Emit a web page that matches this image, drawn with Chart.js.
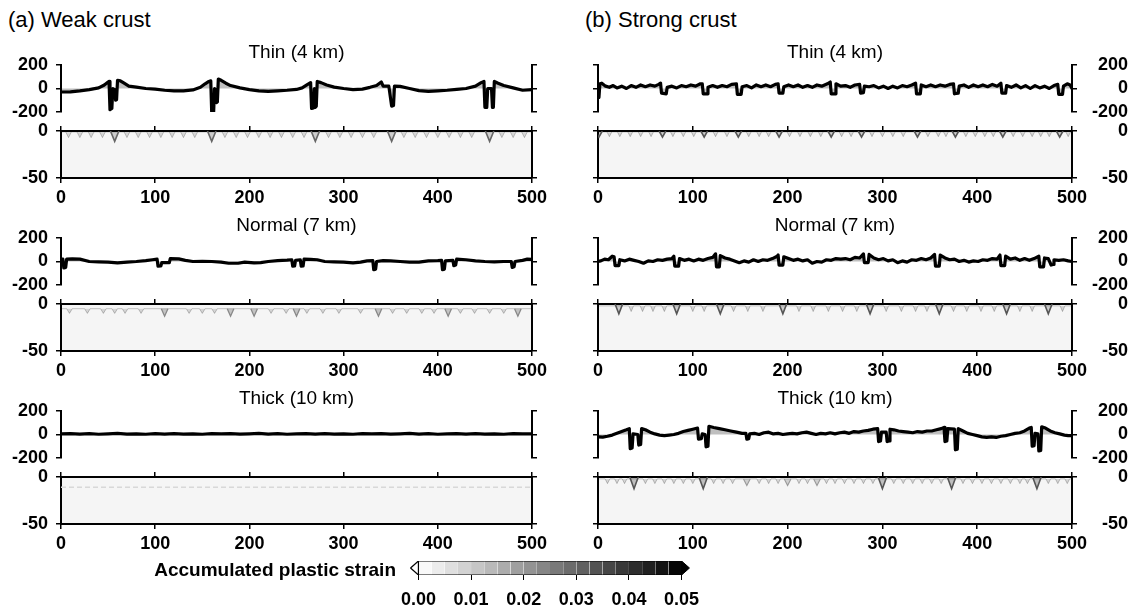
<!DOCTYPE html>
<html>
<head>
<meta charset="utf-8">
<script src="https://cdn.jsdelivr.net/npm/chart.js@4.4.0/dist/chart.umd.min.js"></script>
<style>
  body { margin: 0; background: #fff; }
  #fig { position: relative; width: 1128px; height: 609px; overflow: hidden;
         font-family: "Liberation Sans", Arial, Helvetica, sans-serif; color: #000; }
  #fig canvas { position: absolute; }
  .txt { position: absolute; white-space: nowrap; line-height: 1; }
</style>
</head>
<body>
<div id="fig"></div>
<script>
// ---- tick values ----
const xTicks = [0, 100, 200, 300, 400, 500];
const topoTicks = [-200, 0, 200];
const depthTicks = [-50, 0];
const strainTicks = [0, 0.01, 0.02, 0.03, 0.04, 0.05];
const strainLevels = [0, 0.0025, 0.005, 0.0075, 0.01, 0.0125, 0.015, 0.0175, 0.02, 0.0225, 0.025,
  0.0275, 0.03, 0.0325, 0.035, 0.0375, 0.04, 0.0425, 0.045, 0.0475, 0.05];

// ---- topography profiles [distance km, elevation m] ----
const topoWeakThin = [[0,-30],[10,-28],[20,-20],[30,-10],[40,5],[46,30],[50,55],[51,60],[52,-180],[54,-170],[55,0],[57,-10],[58,-100],[59,-95],[60,70],[63,65],[67,45],[72,20],[80,12],[90,0],[100,-5],[110,-15],[120,-20],[130,-20],[140,-12],[148,10],[153,40],[157,60],[159,65],[160,-210],[162,-210],[163,0],[164,-10],[165,-120],[166,-115],[167,80],[170,70],[175,45],[180,25],[190,5],[200,-10],[210,-20],[220,-25],[230,-20],[240,-15],[250,-8],[256,5],[261,30],[265,50],[266,-170],[268,-165],[269,0],[270,-160],[271,-150],[272,60],[276,50],[282,30],[290,12],[300,0],[310,-10],[320,-5],[328,10],[335,25],[340,55],[342,20],[348,20],[351,-150],[353,-145],[354,20],[360,18],[370,0],[380,-18],[390,-25],[400,-20],[410,-15],[420,-8],[430,0],[440,20],[446,50],[449,60],[450,-160],[452,-160],[453,0],[457,0],[458,-160],[459,-160],[460,60],[464,45],[470,25],[480,5],[490,-15],[500,-10]];
const topoWeakNormal = [[0,20],[2,20],[3,-55],[5,-50],[6,20],[12,22],[20,20],[30,0],[40,-3],[50,-5],[60,-12],[70,-5],[80,0],[90,8],[97,15],[102,20],[103,-40],[106,-38],[107,-10],[115,-10],[116,25],[125,22],[132,10],[140,0],[150,2],[160,0],[170,-5],[178,-15],[188,-15],[195,-5],[205,-12],[212,-10],[220,0],[230,8],[240,12],[245,15],[246,-40],[248,-38],[249,10],[254,15],[255,-40],[257,-38],[258,20],[265,18],[272,15],[280,0],[290,-3],[300,-5],[310,-12],[318,-5],[325,5],[331,8],[332,-70],[334,-65],[335,0],[342,8],[350,5],[360,0],[370,-5],[380,-5],[390,5],[400,8],[404,10],[405,-70],[407,-65],[408,5],[416,10],[417,-35],[419,-30],[420,20],[430,15],[440,5],[450,0],[460,-3],[470,0],[478,0],[479,-50],[481,-45],[482,0],[490,10],[495,20],[500,18]];
const topoWeakThick = [[0,5],[10,8],[20,3],[30,7],[40,2],[50,6],[60,9],[70,3],[80,6],[90,2],[100,7],[110,4],[120,8],[130,3],[140,6],[150,2],[160,7],[170,5],[180,8],[190,3],[200,6],[210,9],[220,4],[230,7],[240,2],[250,6],[260,8],[270,3],[280,7],[290,4],[300,6],[310,2],[320,8],[330,5],[340,7],[350,3],[360,6],[370,9],[380,4],[390,7],[400,2],[410,6],[420,8],[430,3],[440,7],[450,4],[460,6],[470,2],[480,8],[490,5],[500,5]];
const topoStrongThin = [[0,-70],[1,-75],[2,40],[4,45],[8,20],[12,10],[16,25],[20,5],[25,20],[30,0],[35,25],[40,10],[45,30],[50,15],[55,30],[60,20],[64,35],[66,45],[67,-40],[72,-45],[73,10],[78,20],[83,5],[88,25],[93,15],[98,30],[103,20],[108,40],[110,40],[111,-45],[115,-45],[116,10],[121,25],[126,10],[131,25],[136,15],[141,35],[146,40],[147,-50],[151,-50],[152,15],[157,25],[162,5],[167,30],[172,15],[177,30],[182,15],[187,35],[190,40],[191,-40],[195,-40],[196,15],[201,30],[206,15],[211,30],[216,10],[221,25],[226,10],[231,30],[236,20],[242,40],[245,55],[246,-45],[250,-45],[251,40],[256,20],[261,25],[266,10],[271,30],[276,35],[277,-40],[280,-35],[281,20],[286,15],[291,25],[296,5],[301,20],[306,0],[311,20],[316,5],[321,25],[326,15],[331,30],[335,45],[336,-45],[340,-45],[341,30],[346,15],[351,30],[356,15],[361,30],[366,20],[371,35],[375,40],[376,-45],[380,-40],[381,20],[386,30],[391,10],[396,30],[401,15],[406,30],[411,15],[416,35],[421,20],[425,45],[426,-40],[430,-40],[431,25],[436,10],[441,30],[446,5],[451,25],[456,0],[461,25],[466,5],[471,20],[476,0],[481,25],[485,35],[486,-50],[490,-50],[491,20],[495,40],[498,30],[500,0]];
const topoStrongNormal = [[0,0],[3,5],[7,20],[11,15],[15,45],[17,40],[18,-35],[22,-35],[23,15],[28,5],[33,20],[38,10],[43,0],[48,-15],[53,5],[58,0],[63,15],[68,10],[73,20],[78,25],[80,45],[81,-40],[85,-40],[86,25],[91,10],[96,20],[101,5],[106,20],[111,10],[116,25],[121,35],[124,65],[125,-45],[128,-45],[129,50],[134,30],[139,20],[144,5],[149,-10],[154,5],[159,-5],[164,15],[169,0],[174,15],[179,10],[184,25],[189,45],[190,55],[191,-30],[195,-30],[196,40],[201,25],[206,10],[211,20],[216,5],[221,15],[226,-15],[231,0],[236,-5],[241,15],[246,10],[251,25],[256,20],[261,25],[266,15],[271,35],[276,30],[280,65],[281,-10],[285,-10],[286,60],[291,30],[296,15],[301,25],[306,5],[311,15],[316,-10],[321,5],[326,-5],[331,15],[336,10],[341,25],[346,15],[351,30],[355,60],[356,-40],[360,-40],[361,55],[366,30],[371,15],[376,20],[381,0],[386,10],[391,-5],[396,5],[401,0],[406,15],[411,10],[416,25],[421,20],[424,55],[425,-35],[429,-35],[430,45],[435,20],[440,30],[445,10],[450,25],[455,10],[460,25],[465,45],[466,-45],[470,-45],[471,30],[475,25],[478,-30],[480,-25],[481,15],[486,10],[491,15],[496,5],[500,0]];
const topoStrongThick = [[0,-20],[5,-22],[10,-15],[15,-5],[20,10],[25,25],[30,40],[33,50],[34,-120],[36,-115],[37,5],[42,0],[43,-90],[45,-85],[46,50],[50,40],[55,20],[60,5],[65,-5],[70,-10],[75,-5],[80,0],[85,10],[90,25],[95,35],[100,45],[105,55],[106,-40],[109,-35],[110,5],[113,0],[114,-105],[116,-100],[117,70],[122,60],[128,50],[134,40],[140,30],[146,20],[152,10],[156,10],[157,-40],[159,-35],[160,5],[165,10],[170,0],[175,15],[180,20],[185,5],[190,10],[195,0],[200,5],[205,10],[210,5],[215,15],[220,20],[225,10],[230,0],[235,10],[240,5],[245,15],[250,5],[255,15],[260,20],[265,10],[270,25],[275,20],[280,30],[285,35],[290,45],[295,50],[296,-60],[298,-55],[299,20],[304,20],[305,-60],[307,-55],[308,45],[312,40],[317,30],[322,25],[327,20],[332,15],[337,25],[342,20],[347,30],[352,30],[357,40],[362,50],[365,60],[366,-60],[368,-55],[369,50],[376,45],[377,-130],[379,-125],[380,50],[385,30],[390,10],[395,0],[400,-10],[405,-20],[410,-25],[415,-20],[420,-25],[425,-15],[430,-10],[435,0],[440,10],[445,15],[450,30],[455,55],[457,60],[458,-100],[460,-95],[461,10],[464,5],[465,-140],[467,-135],[468,65],[472,55],[477,30],[482,15],[487,5],[492,-5],[496,-10],[500,-10]];

// ---- strain: fault (shear band) positions in km ----
const weakThinMajor = [57, 160, 270, 351, 455];
const weakThinMinor = [8,20,32,44,70,82,94,106,118,130,142,174,186,198,210,222,234,246,258,284,296,308,320,332,364,376,388,400,412,424,436,468,480,492];
const weakNormalMajor = [110, 180, 205, 250, 337, 411, 485];
const weakNormalMinor = [9,28,45,57,68,85,136,150,163,223,239,261,278,295,318,352,367,383,396,424,439,455,470];
const weakThickBand = -11;
const strongThinMajor = [1, 68, 112, 148, 191, 246, 278, 337, 377, 427, 487];
const strongThinMinor = [12,23,34,45,56,79,90,101,124,136,159,170,180,202,213,224,235,257,267,289,300,311,322,348,359,367,388,398,408,417,438,448,458,467,476,496];
const strongNormalMajor = [22, 83, 129, 195, 287, 360, 431, 475];
const strongNormalMinor = [35,47,58,70,100,112,143,158,174,212,227,243,258,273,304,320,335,347,375,389,404,418,445,458,490];
const strongThickMajor = [38, 111, 300, 373, 463];
const strongThickMedium = [157, 200, 231];
const strongThickMinor = [10,20,28,50,60,70,80,90,100,122,132,142,170,180,190,212,221,241,250,260,270,280,290,312,322,332,342,352,362,385,395,405,415,425,435,445,453,475,485,495];

// band depths [top, bottom, half width] in km
const majorBand = { weakThin: [0, -11, 4.5], weakNormal: [-5, -13, 3.5], strongThin: [0, -6.5, 3.5], strongNormal: [0, -10.5, 4], strongThick: [0, -12.5, 4.5] };
const minorBand = { weakThin: [-1, -7, 3], weakNormal: [-5, -10, 3], strongThin: [-1, -6, 2.5], strongNormal: [-2, -8, 2.5], strongThick: [-2, -7, 2.5] };
const mediumBand = [-2, -9, 3.5];

Chart.defaults.font.family = '"Liberation Sans", Arial, Helvetica, sans-serif';
Chart.defaults.color = '#000';

const fig = document.getElementById('fig');
const LEFT = { x0: 61, x1: 532, cx0: 0, cx1: 560, labels: 'left' };
const RIGHT = { x0: 598, x1: 1072, cx0: 560, cx1: 1128, labels: 'right' };
const topoTops = [65, 238, 411];
const heatTops = [131, 304, 477];
const BOX_H = 47;
const M = 22; // canvas margin above / below a plot box

function addCanvas(x, y, w, h) {
  const c = document.createElement('canvas');
  c.width = w; c.height = h;
  c.style.left = x + 'px'; c.style.top = y + 'px';
  c.style.width = w + 'px'; c.style.height = h + 'px';
  fig.appendChild(c);
  return c;
}

function addText(text, x, cy, size, weight, align) {
  const d = document.createElement('div');
  d.className = 'txt';
  d.textContent = text;
  d.style.fontSize = size + 'px';
  d.style.fontWeight = weight;
  d.style.left = x + 'px';
  d.style.top = (cy - size * 0.5) + 'px';
  if (align === 'center') d.style.transform = 'translateX(-50%)';
  if (align === 'right') d.style.transform = 'translateX(-100%)';
  fig.appendChild(d);
}

const tickFont = { size: 18, weight: 'bold' };
const tickGrid = { drawOnChartArea: false, drawTicks: true, tickLength: 5, color: '#000', lineWidth: 1.5 };
const frame = { display: true, color: '#000', width: 2 };

function yScale(pos, min, max, vals, show, width) {
  return {
    type: 'linear', position: pos, min, max,
    afterBuildTicks: s => { s.ticks = vals.map(v => ({ value: v })); },
    ticks: { display: show, font: tickFont, padding: 8, autoSkip: false,
             crossAlign: pos === 'right' ? 'far' : 'near' },
    grid: tickGrid, border: frame,
    afterFit: s => { s.width = width; }
  };
}

function xScale(pos, show, height) {
  return {
    type: 'linear', position: pos, min: 0, max: 500,
    afterBuildTicks: s => { s.ticks = xTicks.map(v => ({ value: v })); },
    ticks: { display: show, font: tickFont, padding: 4, autoSkip: false, maxRotation: 0 },
    grid: tickGrid, border: frame,
    afterFit: s => { s.height = height; }
  };
}

function baseOptions(padding, scales) {
  return {
    responsive: false, animation: false, events: [],
    layout: { padding },
    plugins: { legend: { display: false }, tooltip: { enabled: false } },
    scales
  };
}

const heatBg = {
  id: 'heatBg',
  beforeDraw(chart) {
    const a = chart.chartArea, c = chart.ctx;
    c.save(); c.fillStyle = '#f5f5f5';
    c.fillRect(a.left, a.top, a.right - a.left, a.bottom - a.top);
    c.restore();
  }
};

function topoChart(col, row, pts) {
  const top = topoTops[row];
  const cv = addCanvas(col.cx0, top - M, col.cx1 - col.cx0, BOX_H + 2 * M);
  new Chart(cv, {
    type: 'line',
    data: { datasets: [{
      data: pts.map(([x, y]) => ({ x, y })), xAxisID: 'x', yAxisID: 'y',
      borderColor: '#000', borderWidth: 3.2, borderJoinStyle: 'round', borderCapStyle: 'round', pointRadius: 0,
      fill: 'origin', backgroundColor: 'rgba(0,0,0,0.25)'
    }] },
    options: baseOptions({ top: M, bottom: M, left: 0, right: 0 }, {
      x: { type: 'linear', min: 0, max: 500, display: false },
      y: yScale('left', -200, 200, topoTicks, col.labels === 'left', col.x0 - col.cx0),
      y2: yScale('right', -200, 200, topoTicks, col.labels === 'right', col.cx1 - col.x1)
    })
  });
}

// V-shaped shear bands hanging from a depth level
function bandDatasets(faults, band, fillCol, lineCol, lw) {
  const [t, b, hw] = band;
  return faults.map(f => ({
    data: [{ x: f - hw, y: t }, { x: f, y: b }, { x: f + hw, y: t }],
    xAxisID: 'x', yAxisID: 'y', pointRadius: 0, borderWidth: lw,
    borderColor: lineCol, backgroundColor: fillCol, fill: { value: t }
  }));
}

function sawDataset(faults, band) {
  const [t, b, hw] = band;
  const pts = [{ x: 0, y: t }];
  faults.forEach(f => { pts.push({ x: f - hw, y: t }, { x: f, y: b }, { x: f + hw, y: t }); });
  pts.push({ x: 500, y: t });
  return {
    data: pts, xAxisID: 'x', yAxisID: 'y', pointRadius: 0, borderWidth: 1,
    borderColor: 'rgba(0,0,0,0.22)', backgroundColor: 'rgba(0,0,0,0.13)', fill: { value: t }
  };
}

function heatChart(col, row, datasets) {
  const top = heatTops[row];
  const cv = addCanvas(col.cx0, top - M, col.cx1 - col.cx0, BOX_H + M + 34);
  new Chart(cv, {
    type: 'line',
    data: { datasets },
    options: baseOptions({ top: 0, bottom: 0, left: 0, right: 0 }, {
      x: xScale('bottom', true, 34),
      xTop: xScale('top', false, M),
      y: yScale('left', -50, 0, depthTicks, col.labels === 'left', col.x0 - col.cx0),
      y2: yScale('right', -50, 0, depthTicks, col.labels === 'right', col.cx1 - col.x1)
    }),
    plugins: [heatBg]
  });
}

const majorFill = 'rgba(0,0,0,0.16)', majorLine = '#666';

// ---- left column: weak crust ----
topoChart(LEFT, 0, topoWeakThin);
heatChart(LEFT, 0, [...bandDatasets(weakThinMajor, majorBand.weakThin, majorFill, majorLine, 1.6),
  sawDataset(weakThinMinor, minorBand.weakThin)]);
topoChart(LEFT, 1, topoWeakNormal);
heatChart(LEFT, 1, [...bandDatasets(weakNormalMajor, majorBand.weakNormal, 'rgba(0,0,0,0.2)', '#888', 1.3),
  sawDataset(weakNormalMinor, minorBand.weakNormal)]);
topoChart(LEFT, 2, topoWeakThick);
heatChart(LEFT, 2, [{ data: [{ x: 0, y: weakThickBand }, { x: 500, y: weakThickBand }], xAxisID: 'x', yAxisID: 'y',
  pointRadius: 0, borderWidth: 1.5, borderColor: '#d8d8d8', borderDash: [5, 3], fill: false }]);

// ---- right column: strong crust ----
topoChart(RIGHT, 0, topoStrongThin);
heatChart(RIGHT, 0, [...bandDatasets(strongThinMajor, majorBand.strongThin, majorFill, '#555', 1.6),
  sawDataset(strongThinMinor, minorBand.strongThin)]);
topoChart(RIGHT, 1, topoStrongNormal);
heatChart(RIGHT, 1, [...bandDatasets(strongNormalMajor, majorBand.strongNormal, majorFill, '#555', 1.6),
  sawDataset(strongNormalMinor, minorBand.strongNormal)]);
topoChart(RIGHT, 2, topoStrongThick);
heatChart(RIGHT, 2, [...bandDatasets(strongThickMajor, majorBand.strongThick, 'rgba(0,0,0,0.22)', '#555', 1.6),
  ...bandDatasets(strongThickMedium, mediumBand, 'rgba(0,0,0,0.15)', '#999', 1.1),
  sawDataset(strongThickMinor, minorBand.strongThick)]);

// ---- colour bar ----
(function () {
  const gray = v => { const g = Math.round(255 * (1 - v / 0.05)); return `rgb(${g},${g},${g})`; };
  const tip = 0.0015;
  const ds = [];
  ds.push({ data: [{ x: 0, y: 0 }, { x: 0, y: 1 }, { x: 0.05, y: 1 }, { x: 0.05, y: 0 }, { x: 0, y: 0 }],
    borderColor: '#000', borderWidth: 1.2, pointRadius: 0, fill: false });
  ds.push({ data: [{ x: -tip, y: 0.5 }, { x: 0, y: 1 }], fill: { value: 0.5 }, backgroundColor: '#fff', borderColor: '#000', borderWidth: 1.2, pointRadius: 0 });
  ds.push({ data: [{ x: -tip, y: 0.5 }, { x: 0, y: 0 }], fill: { value: 0.5 }, backgroundColor: '#fff', borderColor: '#000', borderWidth: 1.2, pointRadius: 0 });
  ds.push({ data: [{ x: 0.05, y: 1 }, { x: 0.05 + tip, y: 0.5 }], fill: { value: 0.5 }, backgroundColor: '#000', borderColor: '#000', borderWidth: 1, pointRadius: 0 });
  ds.push({ data: [{ x: 0.05, y: 0 }, { x: 0.05 + tip, y: 0.5 }], fill: { value: 0.5 }, backgroundColor: '#000', borderColor: '#000', borderWidth: 1, pointRadius: 0 });
  for (let i = 0; i < strainLevels.length - 1; i++) {
    const lo = strainLevels[i], hi = strainLevels[i + 1];
    ds.push({ data: [{ x: lo, y: 1 }, { x: hi, y: 1 }], fill: { value: 0 }, borderWidth: 0,
      backgroundColor: gray((lo + hi) / 2), pointRadius: 0 });
  }
  const cv = addCanvas(380, 555, 340, 54);
  new Chart(cv, {
    type: 'line',
    data: { datasets: ds },
    options: baseOptions({ top: 6, bottom: 0, left: 20, right: 20 }, {
      x: { type: 'linear', min: -0.0035, max: 0.0535,
        afterBuildTicks: s => { s.ticks = strainTicks.map(v => ({ value: v })); },
        ticks: { font: tickFont, padding: 9, autoSkip: false, maxRotation: 0, callback: v => v.toFixed(2) },
        grid: { drawOnChartArea: false, drawTicks: true, tickLength: 5, color: '#000', lineWidth: 1 },
        border: { display: false },
        afterFit: s => { s.height = 34; } },
      y: { type: 'linear', min: 0, max: 1, display: false }
    })
  });
})();

// ---- text ----
addText('(a) Weak crust', 8, 20, 22, 'normal', 'left');
addText('(b) Strong crust', 585, 20, 22, 'normal', 'left');
['Thin (4 km)', 'Normal (7 km)', 'Thick (10 km)'].forEach((t, i) => {
  addText(t, (LEFT.x0 + LEFT.x1) / 2, topoTops[i] - 14, 19, 'normal', 'center');
  addText(t, (RIGHT.x0 + RIGHT.x1) / 2, topoTops[i] - 14, 19, 'normal', 'center');
});
addText('Accumulated plastic strain', 396, 569, 19, 'bold', 'right');
</script>
</body>
</html>
